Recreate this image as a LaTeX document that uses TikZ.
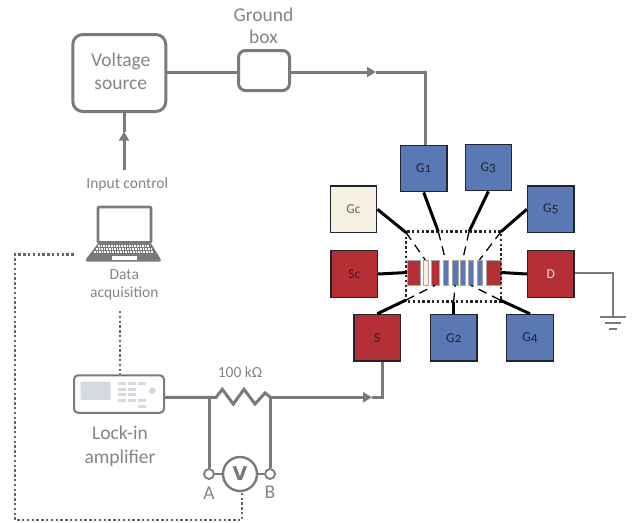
\documentclass[tikz,border=0pt]{standalone}
\usepackage{fontspec}
\setmainfont{Carlito}
\newfontfamily\gfont[Numbers=OldStyle]{Carlito}
\newfontfamily\vfont{DejaVu Sans}
\usetikzlibrary{arrows.meta}
\definecolor{wirec}{HTML}{7A7A7A}
\definecolor{textc}{HTML}{858585}
\definecolor{blueg}{HTML}{5A78B3}
\definecolor{redg}{HTML}{B53035}
\definecolor{creamg}{HTML}{F7F1E1}
\definecolor{edgeg}{HTML}{1F2530}
\definecolor{panel}{HTML}{D5D9E2}
\tikzset{
  wire/.style={draw=wirec,line width=3pt},
  tipped/.style={wire,-{Triangle[length=9pt,width=10pt]}},
  heavy/.style={draw=black,line width=3pt},
  thin dash/.style={draw=black,line width=1.3pt,dash pattern=on 9pt off 6pt},
  dots/.style={draw=black!60,line width=2.6pt,dash pattern=on 2.4pt off 2.4pt},
  pad/.style={draw=edgeg,line width=1.3pt,minimum width=46.5pt,minimum height=46.5pt,inner sep=0pt,text=edgeg,font=\gfont\fontsize{13.5}{15}\selectfont},
  bluepad/.style={pad,fill=blueg},
  redpad/.style={pad,fill=redg},
  creampad/.style={pad,fill=creamg,text=black!60},
  gate/.style={draw=black!35,line width=.4pt,minimum height=25pt,inner sep=0pt},
  label/.style={text=textc,font=\fontsize{19.5}{22}\selectfont,inner sep=0pt,align=center},
  smalllabel/.style={text=textc,font=\fontsize{15.5}{18}\selectfont,inner sep=0pt,align=center},
  round box/.style={draw=wirec,line width=3pt,rounded corners=10pt,fill=white,inner sep=0pt},
  terminal/.style={circle,draw=wirec,line width=1.8pt,fill=white,minimum size=10pt,inner sep=0pt},
}
\begin{document}
\begin{tikzpicture}[x=1pt,y=-1pt]
\useasboundingbox (0,0) rectangle (644,522);
\fill[white] (0,0) rectangle (644,522);

% instruments
\node[round box,minimum width=93pt,minimum height=77pt] (VS) at (119.3,73) {};
\node[label] (VStext) at (120.7,71) {Voltage\\[1pt]source};
\node[round box,minimum width=51pt,minimum height=40pt,rounded corners=7pt] (GB) at (264,70.5) {};
\node[label] (GBtext) at (263.5,26) {Ground\\[0pt]box};

% pads
\node[bluepad] (G1) at (423.7,168.5) {G1};
\node[bluepad] (G3) at (488.4,167.5) {G3};
\node[bluepad] (G5) at (550.7,209.3) {G5};
\node[creampad] (Gc) at (353.5,209.3) {Gc};
\node[redpad] (Sc) at (354.3,274) {Sc};
\node[redpad,text=white!85!red] (D) at (550.7,274) {D};
\node[redpad] (S) at (377.3,337.7) {S};
\node[bluepad] (G2) at (453.7,337.7) {G2};
\node[bluepad] (G4) at (530,337.7) {G4};

% device gates
\node[gate,fill=redg,minimum width=12.7pt] (rA) at (413.7,272.5) {};
\node[gate,fill=creamg,minimum width=5pt] (cA) at (425.2,272.5) {};
\node[gate,fill=redg,minimum width=8.3pt] (rB) at (435.2,272.5) {};
\node[gate,fill=blueg,minimum width=5.6pt] (b1) at (445.5,272.5) {};
\node[gate,fill=blueg,minimum width=5.4pt] (b2) at (455,272.5) {};
\node[gate,fill=blueg,minimum width=5.4pt] (b3) at (462.7,272.5) {};
\node[gate,fill=blueg,minimum width=5.4pt] (b4) at (470.7,272.5) {};
\node[gate,fill=blueg,minimum width=5.6pt] (b5) at (479.5,272.5) {};
\node[gate,fill=redg,minimum width=15pt] (rC) at (493.5,272.5) {};

% device frame
\coordinate (fG1) at (438.3,231.7);
\coordinate (fG3) at (469,231.7);
\coordinate (fG5) at (501,231.7);
\coordinate (fGc) at (406,232.5);
\coordinate (fS) at (406,300);
\coordinate (fG2) at (453.7,301.7);
\coordinate (fG4) at (500,300);
\coordinate (cTL) at (406,231.7);
\coordinate (cBR) at (501,301.7);
\draw[dots,draw=black!85] (cTL) rectangle (cBR);

% pad connectors
\draw[heavy] (G1.south) -- (fG1);
\draw[heavy] (G3.south) -- (fG3);
\draw[heavy] (G5.west) -- (fG5);
\draw[heavy] (Gc.east) -- (fGc);
\draw[heavy] (S.north) -- (fS);
\draw[heavy] (G2.north) -- (fG2);
\draw[heavy] (G4.north) -- (fG4);
\draw[heavy] (Sc.east) -- (rA.west);
\draw[heavy] (D.west) -- (rC.east);
\draw[thin dash] (fG1) -- (b1.north);
\draw[thin dash] (fG3) -- (b3.north);
\draw[thin dash] (fG5) -- (b5.north);
\draw[thin dash] (fGc) -- (cA.north);
\draw[thin dash] (fS) -- (rB.south);
\draw[thin dash] (fG2) -- (b2.south);
\draw[thin dash] (fG4) -- (b4.south);

% top wiring
\coordinate (tipTop) at (376,72);
\coordinate (cornerTop) at (425,72);
\path[wire] (VS.east |- tipTop) -- (GB.west |- tipTop);
\draw[wire] (tipTop) -- (cornerTop) -- (cornerTop |- G1.north);
\draw[tipped] (GB.east |- tipTop) -- (tipTop);

% input control
\node[smalllabel] (IC) at (127.3,184) {Input control};
\coordinate (icTop) at (124,170);
\coordinate (icTip) at (124,131.5);
\draw[wire] (icTip) -- (icTip |- VS.south);
\draw[tipped] (icTop) -- (icTip);

% laptop
\draw[draw=wirec,line width=2.8pt,rounded corners=1pt,fill=white] (98,207) rectangle (151,242.5);
\fill[wirec,rounded corners=1pt] (98,243.5) -- (151,243.5) -- (160.7,259) -- (160.7,261.7) -- (86,261.7) -- (86,259) -- cycle;
\foreach \yy/\xa/\xb in {246/98/149,249/96/151,252/94/153} \draw[white,line width=1.2pt,dash pattern=on 1.6pt off 1pt] (\xa,\yy) -- (\xb,\yy);
\fill[white] (112,255.5) rectangle (136.5,259.5);
\node[smalllabel] (DA) at (124.3,284.5) {Data\\[0pt]acquisition};

% lock-in
\node[draw=wirec,line width=2pt,rounded corners=4pt,fill=white,minimum width=90pt,minimum height=37.5pt,inner sep=0pt] (LI) at (119,394) {};
\fill[panel,rounded corners=1pt] (80.7,381.7) rectangle (110.7,400);
\foreach \yy/\cols in {383/{118,128,138},389/{118,128},394/{118,128},400/{118,128,138},406/{138}}
  \foreach \xx in \cols \fill[panel] (\xx,\yy-1.5) rectangle (\xx+7.5,\yy+1.5);
\fill[panel] (152.3,390.7) circle (3.4);
\node[label] (LItext) at (120,446.5) {Lock-in\\[2pt]amplifier};

% lock-in to voltmeter and sample
\node[smalllabel] (Rtext) at (240,372) {100 kΩ};
\coordinate (nA) at (209,397.3);
\coordinate (nB) at (270.5,397.3);
\coordinate (tipB) at (372,397.3);
\coordinate (cornerB) at (382,397.3);
\draw[wire,line join=miter] (LI.east |- nA) -- (nA) -- (216,397.3) -- (222.3,389.3) -- (233.3,404) -- (244,389.3) -- (255,404) -- (265,393) -- (nB);
\draw[wire] (tipB) -- (cornerB) -- (cornerB |- S.south);
\draw[tipped] (nB) -- (tipB);
\node[terminal] (TA) at (209,474) {};
\node[terminal] (TB) at (270,474) {};
\node[circle,draw=wirec,line width=2.4pt,fill=white,minimum size=34pt,inner sep=0pt,text=wirec,font=\vfont\bfseries\fontsize{19}{20}\selectfont] (VM) at (240,474) {V};
\draw[wire] (nA) -- (TA.north);
\draw[wire] (nB) -- (nB |- TB.north);
\draw[draw=wirec,line width=1.6pt] (TA.east) -- (VM.west);
\draw[draw=wirec,line width=1.6pt] (VM.east) -- (TB.west);
\node[label] (Atext) at (209,493) {A};
\node[label] (Btext) at (270,492.5) {B};

% dotted data lines
\coordinate (d1) at (73.5,254.3);
\coordinate (d2) at (15,254.3);
\coordinate (d3) at (15,520);
\coordinate (d4) at (242,520);
\coordinate (dDA) at (120,311);
\draw[dots] (d1) -- (d2) -- (d3) -- (d4) -- (d4 |- VM.south);
\draw[dots] (dDA) -- (dDA |- LI.north);

% drain ground
\coordinate (gc) at (613.3,273);
\coordinate (g1) at (613.3,316.7);
\draw[draw=wirec,line width=2pt] (D.east |- gc) -- (gc) -- (g1);
\draw[draw=wirec,line width=1.8pt] (600,316.7) -- (626,316.7);
\draw[draw=wirec,line width=1.8pt] (605,323) -- (621,323);
\draw[draw=wirec,line width=1.8pt] (609,329) -- (617,329);
\end{tikzpicture}
\end{document}
